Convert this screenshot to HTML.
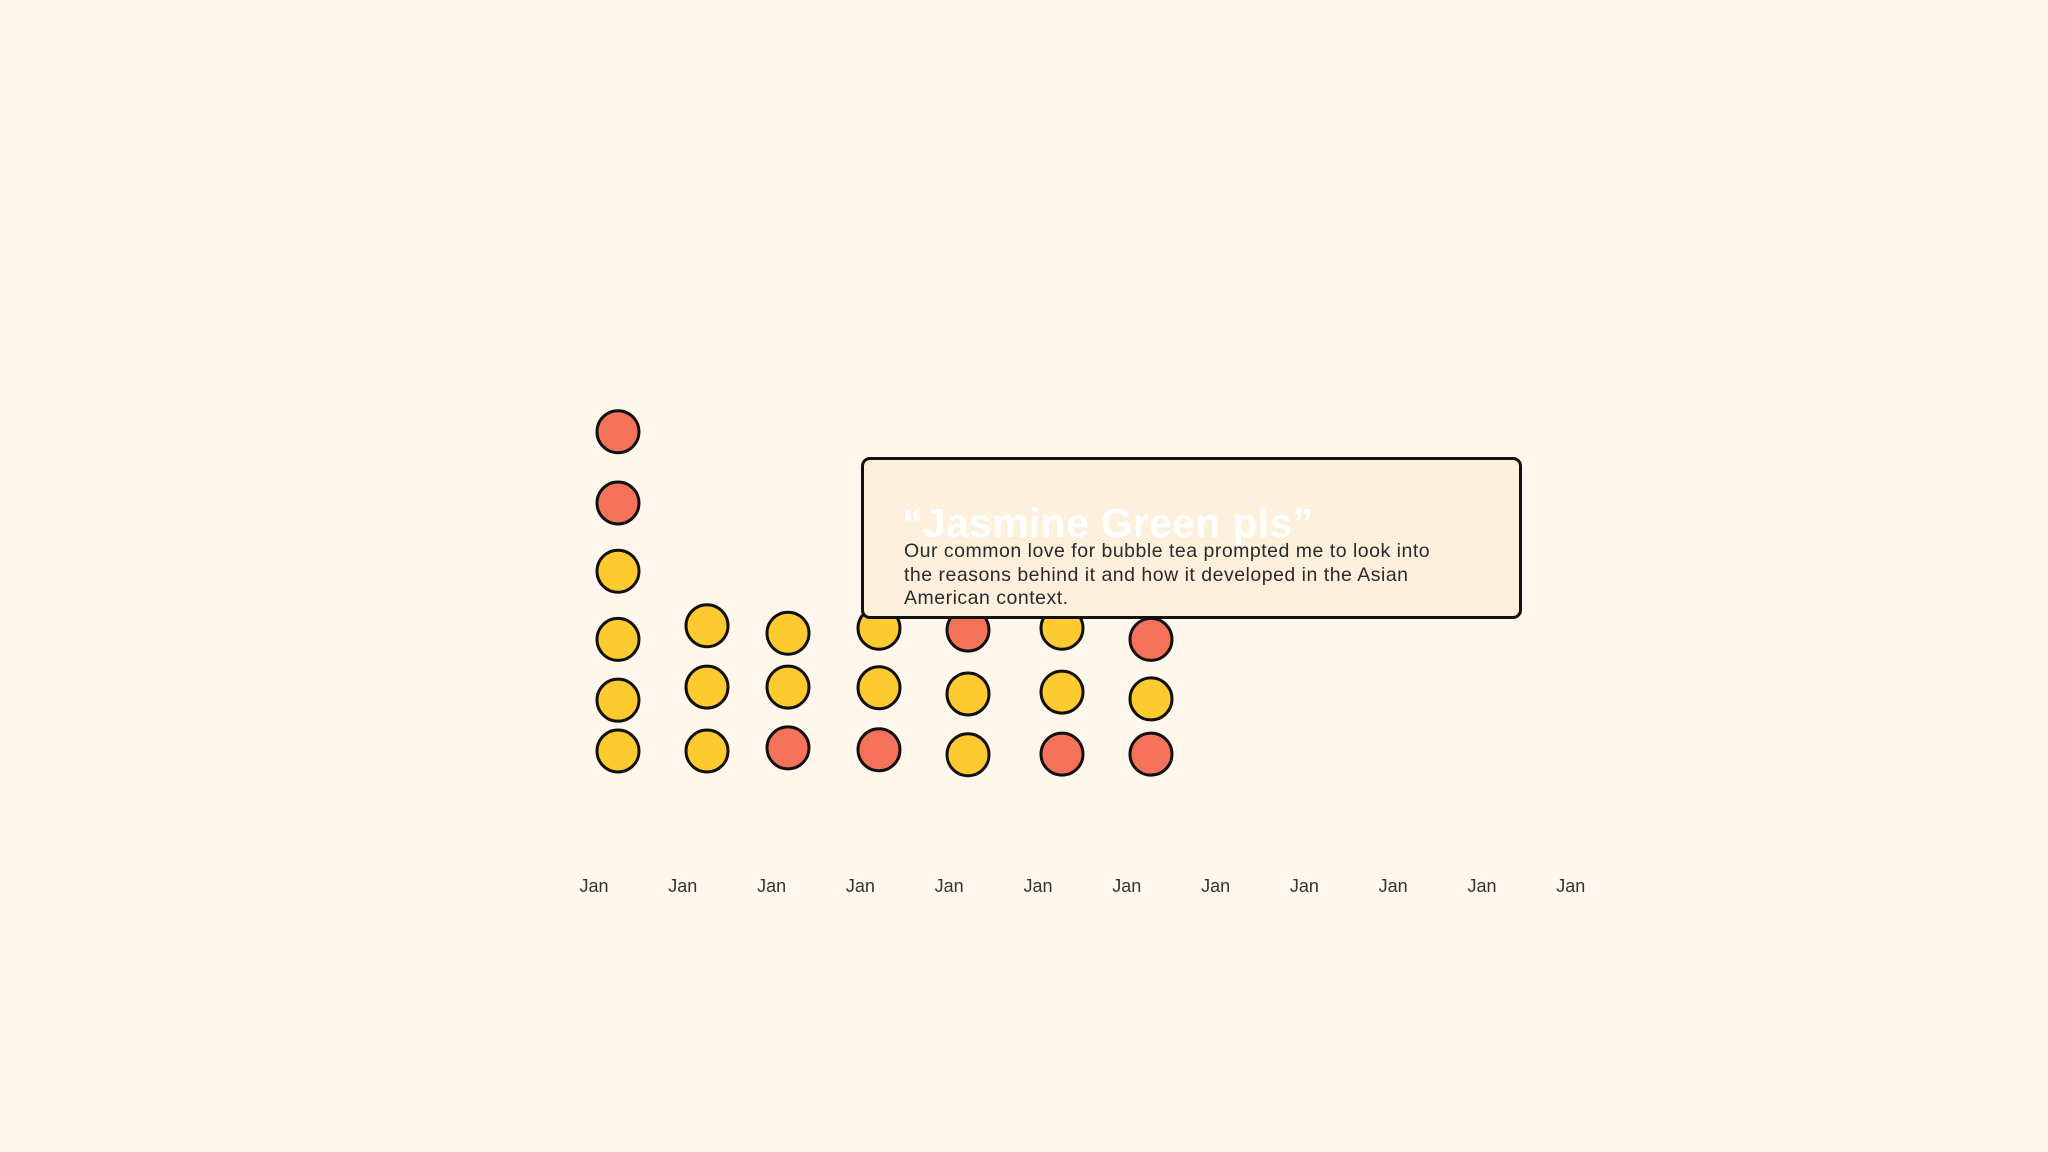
<!DOCTYPE html>
<html><head><meta charset="utf-8"><style>
html,body{margin:0;padding:0;background:#fff7ec;}
body{width:2048px;height:1152px;position:relative;overflow:hidden;font-family:"Liberation Sans",sans-serif;}
#chart{position:absolute;left:0;top:0;}
#card{position:absolute;left:861px;top:457px;width:655px;height:156px;border:3px solid #111;border-radius:9px;background:#fdf0dc;box-sizing:content-box;}
#card h2{position:absolute;left:38px;top:40px;margin:0;font-size:41px;font-weight:bold;color:#fff;white-space:nowrap;letter-spacing:0.3px;}
#card p{position:absolute;left:40px;top:80px;margin:0;width:545px;font-size:19.5px;line-height:23.5px;color:#2a2a2a;letter-spacing:0.5px;}
</style></head><body>
<svg id="chart" width="2048" height="1152"></svg>
<div id="card">
<h2>“Jasmine Green pls”</h2>
<p>Our common love for bubble tea prompted me to look into the reasons behind it and how it developed in the Asian American context.</p>
</div>
<script>
const tickLabels = ["Jan","Jan","Jan","Jan","Jan","Jan","Jan","Jan","Jan","Jan","Jan","Jan"];
const colX = [618, 707, 788, 879, 968, 1062, 1151];
const stackLevels = [
  [0, 0.82, 1.8, 2.9, 4.0, 5.15],
  [0, 1.03, 2.02],
  [0.05, 1.03, 1.9],
  [0.02, 1.02, 1.98],
  [-0.06, 0.92, 1.95],
  [-0.05, 0.95, 1.98],
  [-0.05, 0.84, 1.8]
];
const stackKinds = [
  ["y","y","y","y","r","r"],
  ["y","y","y"],
  ["r","y","y"],
  ["r","y","y"],
  ["y","y","r"],
  ["r","y","y"],
  ["r","y","r"]
];
const svg = document.getElementById('chart');
const NS = "http://www.w3.org/2000/svg";
const xTick = i => 594 + i * 88.8;
const yScale = v => 751 - v * 62;
const fill = k => k === "r" ? "#f4715a" : "#fdcb30";
tickLabels.forEach((t, i) => {
  const el = document.createElementNS(NS, 'text');
  
  
  el.setAttribute('x', xTick(i));
  el.setAttribute('y', 892);
  el.setAttribute('text-anchor', 'middle');
  el.setAttribute('font-size', '18');
  el.setAttribute('fill', '#333');
  el.setAttribute('font-family', 'Liberation Sans, sans-serif');
  el.textContent = t;
  svg.appendChild(el);
});
stackLevels.forEach((col, ci) => {
  col.forEach((v, di) => {
    const c = document.createElementNS(NS, 'circle');
    
    
    c.setAttribute('cx', colX[ci]);
    c.setAttribute('cy', yScale(v));
    c.setAttribute('r', 21);
    c.setAttribute('fill', fill(stackKinds[ci][di]));
    c.setAttribute('stroke', '#111');
    c.setAttribute('stroke-width', 3);
    svg.appendChild(c);
  });
});
</script>
</body></html>
